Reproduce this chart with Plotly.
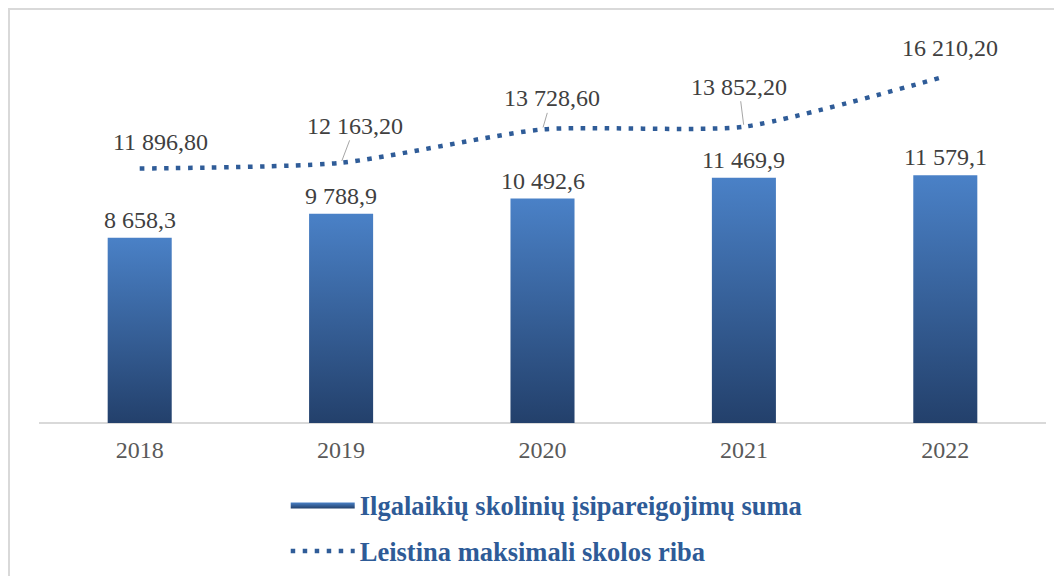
import plotly.graph_objects as go

years = ["2018", "2019", "2020", "2021", "2022"]
debt_sum = [8658.3, 9788.9, 10492.6, 11469.9, 11579.1]
max_limit = [11896.80, 12163.20, 13728.60, 13852.20, 16210.20]

bar_name = "Ilgalaikių skolinių įsipareigojimų suma"
line_name = "Leistina maksimali skolos riba"

def fmt(v, d):
    s = f"{v:,.{d}f}"
    return s.replace(",", " ").replace(".", ",")

BAR_W = 0.318
FONT = "Liberation Serif, Times New Roman, serif"
xs = list(range(len(years)))

fig = go.Figure()

# bars as gradient-filled shapes built from the data
for i, v in enumerate(debt_sum):
    fig.add_trace(go.Scatter(
        x=[i - BAR_W / 2, i - BAR_W / 2, i + BAR_W / 2, i + BAR_W / 2, i - BAR_W / 2],
        y=[0, v, v, 0, 0],
        mode="lines", fill="toself",
        line=dict(width=0),
        fillgradient=dict(type="vertical",
                          colorscale=[[0, "#23406b"], [1, "#4a81c7"]]),
        name=bar_name, legendgroup="bars", showlegend=(i == 0),
        hoverinfo="skip",
    ))

fig.add_trace(go.Scatter(
    x=xs, y=max_limit, mode="lines",
    line=dict(color="#2f5c98", width=4.5, dash="4.5px,7.5px", shape="spline", smoothing=0.6),
    name=line_name, legendgroup="line",
))

annotations = []
for i, v in enumerate(debt_sum):
    annotations.append(dict(
        x=i, y=v, xref="x", yref="y", text=fmt(v, 1), showarrow=False,
        yanchor="bottom", yshift=3,
        font=dict(family=FONT, size=24, color="#404040"),
    ))

offsets = [(21, -27, False), (14, -37, True), (9, -31, True), (-5, -40, True), (5, -28, False)]
for i, v in enumerate(max_limit):
    ox, oy, arrow = offsets[i]
    if arrow:
        annotations.append(dict(
            x=i, y=v, xref="x", yref="y", text=fmt(v, 2),
            showarrow=True, arrowhead=0, arrowwidth=1, arrowcolor="#a6a6a6",
            ax=ox, ay=oy, standoff=2,
            font=dict(family=FONT, size=24, color="#404040"),
        ))
    else:
        annotations.append(dict(
            x=i, y=v, xref="x", yref="y", text=fmt(v, 2), showarrow=False,
            xshift=ox, yshift=-oy,
            font=dict(family=FONT, size=24, color="#404040"),
        ))

fig.update_layout(
    width=1062, height=576,
    margin=dict(l=31, r=24, t=30, b=161, autoexpand=False),
    paper_bgcolor="white", plot_bgcolor="white",
    showlegend=True,
    legend=dict(
        orientation="v", xref="paper", yref="paper",
        x=0.245, y=-0.15, xanchor="left", yanchor="top",
        font=dict(family=FONT, size=26.5, color="#2e5b97", weight="bold"),
        traceorder="grouped", tracegroupgap=9, itemwidth=64,
        bgcolor="rgba(0,0,0,0)",
    ),
    annotations=annotations,
    shapes=[dict(type="rect", xref="paper", yref="paper",
                 x0=-30 / 1007, y0=-0.6, x1=1.2, y1=1 + 29 / 385,
                 line=dict(color="#d9d9d9", width=2), layer="below")],
    xaxis=dict(
        range=[-0.5, 4.5], tickmode="array", tickvals=xs, ticktext=years,
        showgrid=False, zeroline=False, showline=False, ticks="",
        tickfont=dict(family=FONT, size=24, color="#595959"),
        ticklabelstandoff=10,
        fixedrange=True,
    ),
    yaxis=dict(
        range=[0, 18000], showgrid=False, zeroline=True, zerolinecolor="#d9d9d9",
        zerolinewidth=2, showticklabels=False, showline=False, ticks="",
        fixedrange=True,
    ),
)

fig.write_html("out.html")
